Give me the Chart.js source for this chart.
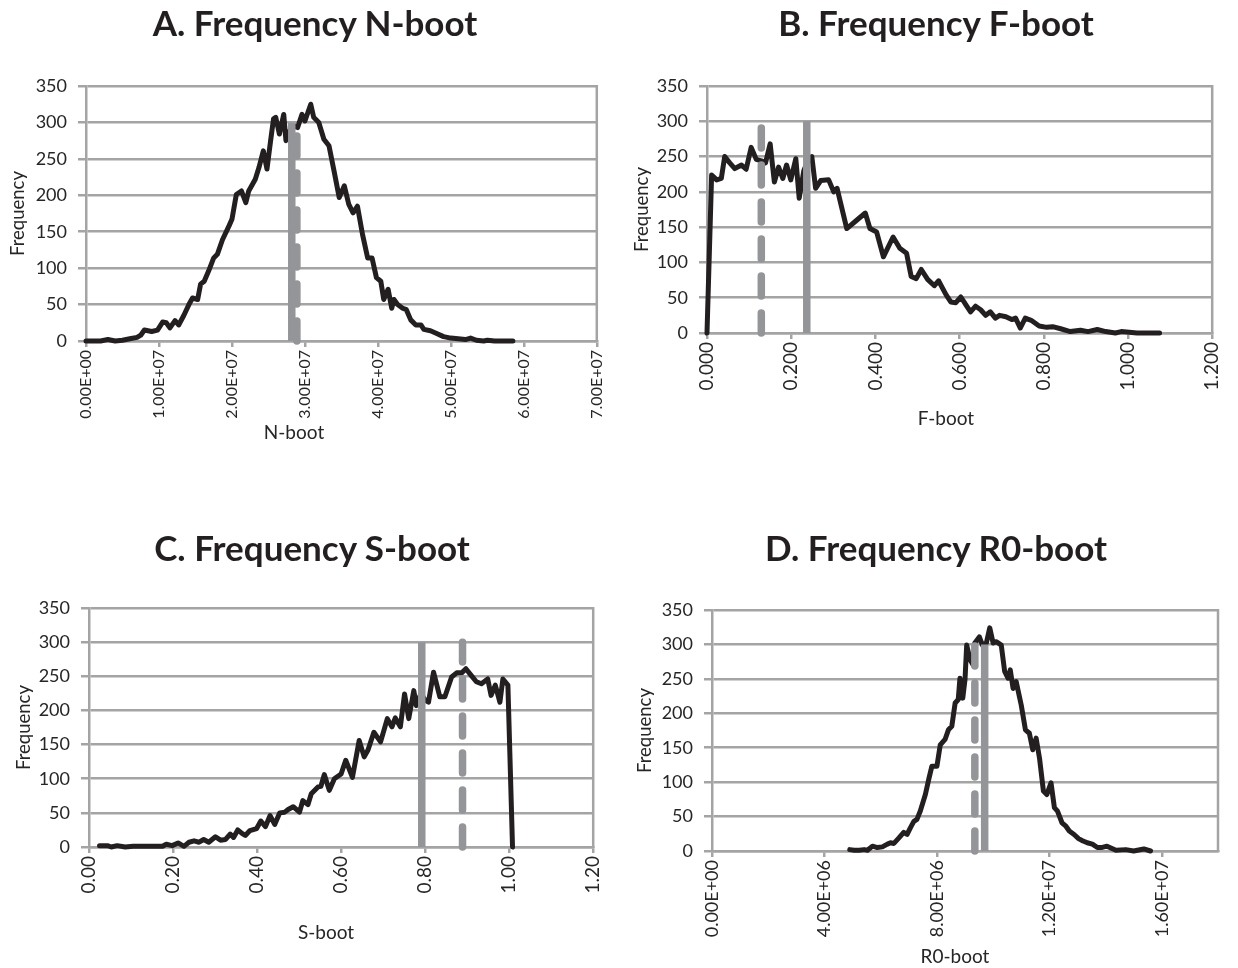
<!DOCTYPE html>
<html>
<head>
<meta charset="utf-8">
<title>Bootstrap frequency distributions</title>
<script src="https://cdn.jsdelivr.net/npm/chart.js@4.4.1/dist/chart.umd.min.js"></script>
<style>
  html, body { margin: 0; padding: 0; background: #fff; }
  body { width: 1238px; height: 968px; position: relative; overflow: hidden; }
  .panel { position: absolute; }
  .title {
    position: absolute; width: 600px; text-align: center;
    font: bold 35px/40px Lato, "Open Sans", sans-serif; color: #231f20;
    white-space: nowrap;
  }
  .xtitle {
    position: absolute; width: 200px; text-align: center;
    font: 19px/22px Lato, "Open Sans", sans-serif; color: #262626;
    white-space: nowrap;
  }
</style>
</head>
<body>
<div class="panel" style="left:0;top:0;width:619px;height:470px"><canvas id="chartA"></canvas></div>
<div class="panel" style="left:619px;top:0;width:619px;height:470px"><canvas id="chartB"></canvas></div>
<div class="panel" style="left:0;top:500px;width:619px;height:468px"><canvas id="chartC"></canvas></div>
<div class="panel" style="left:619px;top:500px;width:619px;height:468px"><canvas id="chartD"></canvas></div>
<div class="title" style="left:15px;top:2px">A. Frequency N-boot</div>
<div class="title" style="left:636px;top:2px">B. Frequency F-boot</div>
<div class="title" style="left:12px;top:527px">C. Frequency S-boot</div>
<div class="title" style="left:636px;top:527px">D. Frequency R0-boot</div>
<div class="xtitle" style="left:194px;top:421px">N-boot</div>
<div class="xtitle" style="left:846px;top:407px">F-boot</div>
<div class="xtitle" style="left:226px;top:921px">S-boot</div>
<div class="xtitle" style="left:855px;top:945px">R0-boot</div>
<script>
// A. N-boot
const nBootX = [0, 2.0e6, 3.0e6, 4.0e6, 5.0e6, 6.0e6, 7.0e6, 7.5e6, 8.0e6, 9.0e6,
  9.8e6, 10.5e6, 11.0e6, 11.5e6, 12.2e6, 12.7e6, 13.4e6, 14.1e6, 14.6e6, 15.3e6,
  15.7e6, 16.2e6, 16.8e6, 17.5e6, 18.0e6, 18.7e6, 19.6e6, 20.0e6, 20.6e6, 21.3e6,
  21.9e6, 22.3e6, 23.2e6, 23.7e6, 24.3e6, 24.8e6, 25.3e6, 25.7e6, 26.0e6, 26.5e6,
  27.1e6, 27.4e6, 28.0e6, 28.6e6, 29.0e6, 29.6e6, 30.0e6, 30.8e6, 31.2e6, 31.9e6,
  32.6e6, 33.3e6, 34.0e6, 34.7e6, 35.4e6, 36.0e6, 36.6e6, 37.2e6, 37.9e6, 38.6e6,
  39.2e6, 39.8e6, 40.4e6, 40.8e6, 41.4e6, 41.9e6, 42.2e6, 42.7e6, 43.4e6, 43.9e6,
  44.5e6, 45.2e6, 45.9e6, 46.3e6, 47.2e6, 47.9e6, 49.0e6, 50.0e6, 51.0e6, 52.0e6,
  52.7e6, 53.5e6, 54.5e6, 55.0e6, 56.0e6, 58.5e6];
const nBootFreq = [0, 0, 2, 0, 1, 3, 5, 8, 15, 13,
  15, 26, 25, 18, 28, 22, 35, 50, 59, 57,
  78, 82, 96, 114, 119, 139, 158, 167, 201, 206,
  190, 206, 222, 238, 261, 236, 275, 305, 307, 284,
  311, 275, 290, 295, 293, 311, 302, 325, 307, 300,
  277, 268, 233, 197, 213, 188, 176, 185, 146, 114,
  114, 87, 82, 57, 71, 45, 57, 50, 45, 43,
  29, 22, 22, 16, 14, 11, 6, 4, 3, 2,
  4, 1, 0, 1, 0, 0];
const nBootMarks = [2.82e7, 2.89e7]; // solid, dashed
const nBootTicks = [0, 1e7, 2e7, 3e7, 4e7, 5e7, 6e7, 7e7];

// B. F-boot
const fBootX = [0.000, 0.011, 0.023, 0.034, 0.042, 0.054, 0.066, 0.082, 0.093, 0.105,
  0.117, 0.129, 0.139, 0.150, 0.160, 0.170, 0.180, 0.189, 0.199, 0.211,
  0.219, 0.230, 0.240, 0.249, 0.258, 0.270, 0.289, 0.301, 0.309, 0.332,
  0.352, 0.376, 0.387, 0.403, 0.419, 0.442, 0.458, 0.474, 0.485, 0.497,
  0.509, 0.524, 0.540, 0.550, 0.568, 0.579, 0.591, 0.603, 0.615, 0.626,
  0.638, 0.650, 0.662, 0.673, 0.685, 0.695, 0.710, 0.724, 0.733, 0.744,
  0.756, 0.770, 0.789, 0.807, 0.821, 0.840, 0.863, 0.887, 0.905, 0.927,
  0.947, 0.970, 0.984, 1.003, 1.021, 1.075];
const fBootFreq = [0, 224, 217, 219, 250, 241, 233, 238, 232, 263,
  246, 244, 241, 268, 214, 235, 219, 238, 217, 247,
  191, 230, 245, 250, 205, 216, 217, 200, 205, 148,
  158, 170, 148, 143, 108, 136, 120, 113, 80, 77,
  90, 76, 67, 74, 54, 44, 43, 51, 40, 30,
  38, 33, 25, 30, 21, 25, 23, 19, 21, 7,
  21, 18, 10, 8, 9, 6, 2, 4, 2, 5,
  2, 0, 2, 1, 0, 0];
const fBootMarks = [0.237, 0.129];
const fBootTicks = [0, 0.2, 0.4, 0.6, 0.8, 1.0, 1.2];

// C. S-boot
const sBootX = [0.025, 0.044, 0.053, 0.067, 0.086, 0.105, 0.142, 0.175, 0.184, 0.198,
  0.212, 0.226, 0.238, 0.250, 0.262, 0.273, 0.285, 0.301, 0.313, 0.325,
  0.336, 0.344, 0.354, 0.364, 0.372, 0.383, 0.399, 0.409, 0.420, 0.431,
  0.442, 0.454, 0.466, 0.474, 0.486, 0.501, 0.509, 0.521, 0.529, 0.545,
  0.552, 0.560, 0.572, 0.584, 0.600, 0.611, 0.627, 0.643, 0.655, 0.664,
  0.678, 0.694, 0.710, 0.721, 0.729, 0.741, 0.751, 0.761, 0.773, 0.779,
  0.790, 0.800, 0.808, 0.820, 0.835, 0.847, 0.863, 0.875, 0.887, 0.897,
  0.910, 0.922, 0.934, 0.949, 0.957, 0.967, 0.978, 0.985, 0.997, 1.008];
const sBootFreq = [2, 2, 0, 2, 0, 1, 1, 1, 4, 2,
  6, 1, 7, 9, 7, 11, 7, 15, 10, 11,
  19, 14, 25, 20, 17, 24, 27, 38, 30, 46,
  33, 50, 51, 55, 59, 51, 68, 62, 78, 88,
  89, 106, 83, 100, 107, 127, 102, 156, 132, 142,
  168, 154, 188, 176, 189, 176, 224, 188, 229, 207,
  225, 215, 212, 256, 220, 220, 249, 255, 255, 261,
  251, 242, 239, 246, 222, 237, 212, 246, 237, 0];
const sBootMarks = [0.792, 0.889];
const sBootTicks = [0, 0.2, 0.4, 0.6, 0.8, 1.0, 1.2];

// D. R0-boot
const r0BootX = [4.90e6, 5.06e6, 5.24e6, 5.41e6, 5.53e6, 5.71e6, 5.88e6, 6.06e6, 6.24e6, 6.35e6,
  6.47e6, 6.65e6, 6.82e6, 6.94e6, 7.06e6, 7.18e6, 7.29e6, 7.41e6, 7.59e6, 7.71e6,
  7.82e6, 8.00e6, 8.12e6, 8.29e6, 8.41e6, 8.53e6, 8.65e6, 8.76e6, 8.82e6, 8.92e6,
  9.00e6, 9.06e6, 9.18e6, 9.29e6, 9.35e6, 9.51e6, 9.62e6, 9.76e6, 9.88e6, 10.00e6,
  10.12e6, 10.29e6, 10.41e6, 10.53e6, 10.61e6, 10.71e6, 10.82e6, 11.00e6, 11.15e6, 11.29e6,
  11.41e6, 11.53e6, 11.65e6, 11.79e6, 11.91e6, 12.06e6, 12.18e6, 12.29e6, 12.45e6, 12.59e6,
  12.71e6, 12.88e6, 13.04e6, 13.18e6, 13.35e6, 13.53e6, 13.71e6, 13.85e6, 14.05e6, 14.37e6,
  14.72e6, 15.00e6, 15.36e6, 15.60e6];
const r0BootFreq = [2, 1, 1, 2, 1, 7, 5, 6, 10, 12,
  11, 19, 27, 24, 34, 43, 46, 58, 82, 104,
  123, 123, 154, 162, 176, 181, 215, 220, 251, 222,
  249, 299, 278, 270, 302, 311, 299, 302, 324, 302,
  304, 299, 261, 251, 263, 236, 246, 212, 176, 171,
  147, 164, 135, 87, 82, 99, 63, 58, 41, 36,
  29, 24, 18, 15, 12, 10, 5, 5, 7, 1,
  2, 0, 3, 0];
const r0BootMarks = [9.7e6, 9.35e6];
const r0BootTicks = [0, 4e6, 8e6, 1.2e7, 1.6e7];

const markTop = 300;
const freqTicks = { min: 0, max: 350, step: 50 };

const GRID = '#a4a4a4';
const INK = '#231f20';
const TEXT = '#262626';
const MARK = '#939598';
const FONT = 'Lato, "Open Sans", sans-serif';

function sciLabel(v) {
  return Number(v).toExponential(2).toUpperCase().replace(/E([+-])(\d)$/, 'E$10$2');
}

// right edge of the plot frame (Excel-style plot area border)
const frameBorder = {
  id: 'frameBorder',
  beforeDatasetsDraw(chart) {
    const { ctx, chartArea: a } = chart;
    ctx.save();
    ctx.strokeStyle = GRID;
    ctx.lineWidth = 2.5;
    ctx.beginPath();
    ctx.moveTo(a.right, a.top - 1);
    ctx.lineTo(a.right, a.bottom + 1);
    ctx.stroke();
    ctx.restore();
  }
};

function buildChart(canvasId, p) {
  const points = p.xs.map((x, i) => ({ x: x, y: p.ys[i] }));
  return new Chart(document.getElementById(canvasId), {
    type: 'line',
    data: {
      datasets: [
        {
          label: 'solid',
          data: [{ x: p.marks[0], y: 0 }, { x: p.marks[0], y: markTop }],
          borderColor: MARK, borderWidth: 7.5, pointRadius: 0, order: 0, clip: false
        },
        {
          label: 'dashed',
          data: [{ x: p.marks[1], y: 0 }, { x: p.marks[1], y: markTop }],
          borderColor: MARK, borderWidth: 7.5, borderDash: [20, 17], borderCapStyle: 'round',
          pointRadius: 0, order: 1, clip: false
        },
        {
          label: 'Frequency',
          data: points,
          borderColor: INK, borderWidth: 5, borderJoinStyle: 'round', borderCapStyle: 'round',
          pointRadius: 0, tension: 0, order: 2, clip: 6
        }
      ]
    },
    options: {
      responsive: true,
      maintainAspectRatio: false,
      animation: false,
      layout: { padding: { left: 0, right: p.padRight, top: p.plotTop, bottom: 0 } },
      plugins: {
        legend: { display: false },
        tooltip: { enabled: false },
        title: { display: false }
      },
      scales: {
        x: {
          type: 'linear',
          min: p.xMin,
          max: p.xMax,
          afterFit: s => { s.height = p.xHeight; },
          afterBuildTicks: s => { s.ticks = p.xTicks.map(v => ({ value: v })); },
          grid: { drawOnChartArea: false, drawTicks: true, tickLength: 6, color: GRID, lineWidth: 2.5 },
          border: { color: GRID, width: 2.5 },
          ticks: {
            autoSkip: false,
            minRotation: 90,
            maxRotation: 90,
            padding: 3,
            color: TEXT,
            font: { family: FONT, size: p.xTickSize },
            callback: p.xFormat
          },
          title: { display: false }
        },
        y: {
          min: freqTicks.min,
          max: freqTicks.max,
          afterFit: s => { s.width = p.yWidth; },
          grid: { color: GRID, lineWidth: 2.5, tickLength: 8 },
          border: { color: GRID, width: 2.5 },
          ticks: {
            stepSize: freqTicks.step,
            padding: 11,
            color: TEXT,
            font: { family: FONT, size: 18 }
          },
          title: {
            display: true,
            text: 'Frequency',
            color: TEXT,
            font: { family: FONT, size: 18.5, lineHeight: 1.2 },
            padding: { top: p.yTitlePad, bottom: 0 }
          }
        }
      }
    },
    plugins: [frameBorder]
  });
}

buildChart('chartA', {
  xs: nBootX, ys: nBootFreq, marks: nBootMarks, xTicks: nBootTicks,
  xMin: 0, xMax: 7e7, xFormat: v => sciLabel(v), xTickSize: 16,
  plotTop: 86, yWidth: 86, padRight: 22, xHeight: 129, yTitlePad: 7
});

buildChart('chartB', {
  xs: fBootX, ys: fBootFreq, marks: fBootMarks, xTicks: fBootTicks,
  xMin: 0, xMax: 1.2, xFormat: v => Number(v).toFixed(3), xTickSize: 19,
  plotTop: 86, yWidth: 88, padRight: 20, xHeight: 137, yTitlePad: 12
});

buildChart('chartC', {
  xs: sBootX, ys: sBootFreq, marks: sBootMarks, xTicks: sBootTicks,
  xMin: 0, xMax: 1.2, xFormat: v => Number(v).toFixed(2), xTickSize: 19,
  plotTop: 108, yWidth: 89, padRight: 21, xHeight: 121, yTitlePad: 13
});

buildChart('chartD', {
  xs: r0BootX, ys: r0BootFreq, marks: r0BootMarks, xTicks: r0BootTicks,
  xMin: 0, xMax: 1.8e7, xFormat: v => sciLabel(v), xTickSize: 18,
  plotTop: 110, yWidth: 93, padRight: 20, xHeight: 117, yTitlePad: 15
});
</script>
</body>
</html>
